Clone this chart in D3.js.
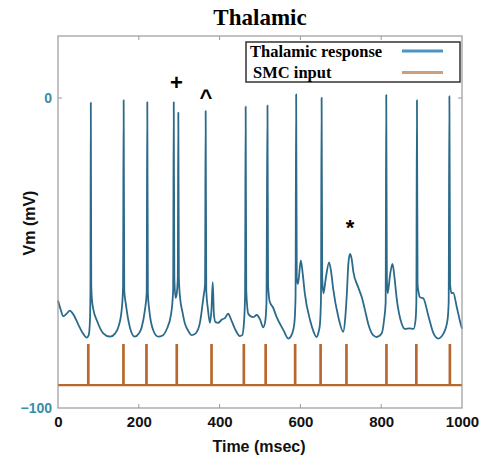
<!DOCTYPE html>
<html>
<head>
<meta charset="utf-8">
<script src="https://cdn.jsdelivr.net/npm/d3@7"></script>
<style>
  body { margin: 0; background: #fff; }
  svg { display: block; }
</style>
</head>
<body>
<svg id="chart"></svg>
<script>
// thalamic membrane trace, [time (msec), Vm (mV)]
const thalamicTrace = [
  [0,-65.3],[6,-68],[13,-70.4],[22,-69.5],[29,-68.6],[38,-69.8],[50,-73],[62,-76],[71,-77.3],[76,-76.5],
  [79,-72],[80.3,-62],[81.2,-1.5],[82.3,-60],[84,-65],[88,-68.5],[96,-71.7],[112,-75.9],[129,-77],[141,-76],
  [149,-74],[157.5,-68.5],[161,-61],[162.5,-0.7],[164,-62],[168,-66.5],[178,-74],[190,-77],[200,-76],[207,-74],
  [215,-68.5],[219.5,-63],[221,-1.3],[222.5,-63],[226,-68.5],[236,-75],[248,-77],[260,-76.5],[269,-74.6],[280,-69.6],
  [285,-62],[286.5,-1.3],[288,-58],[291,-64.5],[294,-63],[296.5,-58],[297.8,-4.7],[299.2,-58],[302,-64.2],[308,-69],
  [314,-72.7],[322,-75],[331,-76.5],[340,-76],[351,-72.7],[360,-64.2],[364,-60],[365.5,-4.2],[367,-62],[371,-68],
  [376,-72.5],[380,-68],[383,-59.4],[386,-70],[390,-72.3],[397,-72.5],[405,-71.5],[413,-71],[421,-69.6],[430,-72],
  [440,-75],[450,-76.8],[456,-76.5],[460,-73],[463,-64],[464.5,-2.8],[466,-62],[471,-69.6],[478,-70.5],[483,-70.7],
  [492,-70],[500,-71.4],[508,-74],[513,-72],[516,-66],[518.5,-2.4],[520,-60],[523,-65],[525,-66],[532,-67.5],
  [541,-70.6],[558,-74.9],[570,-77.6],[578,-76.5],[585,-72.7],[588,-64],[589.5,1.2],[591,-58],[594,-60],[601,-52.4],
  [606,-57],[611,-63.1],[624,-71.7],[633,-75.5],[640,-77.1],[645,-75.5],[648.5,-72.8],[651,-64],[652.5,0.1],[654,-58],
  [657,-63],[663,-58],[671,-53],[676,-56],[681,-61.4],[694,-70.7],[706,-75.4],[711,-71],[715,-63],[719,-53],
  [723,-50.3],[727,-52],[731,-56],[743,-61],[752,-64.3],[760,-68.5],[768,-72.9],[780,-76.5],[789,-77.1],[801,-76],
  [807,-71.7],[811,-66],[812.5,1.0],[814,-58],[816,-63],[822,-57],[828,-53.5],[833,-58],[838,-64.3],[851,-72.9],
  [859,-74.5],[870,-74.3],[880,-74.5],[885,-71.7],[887,-66],[888.5,-0.7],[890,-60],[893,-63],[896,-64.3],[904,-64.6],
  [917,-70.4],[929,-75.8],[941,-77.6],[954,-76],[964,-71.7],[967,-66],[968.8,0.6],[970.5,-60],[974,-63],[978,-62.8],
  [987,-67.4],[995,-72],[1000,-74.4]
];

// SMC input pulse times (msec) and levels (mV)
const inputTimes = [75, 162, 219, 294, 380, 460, 514, 587, 650, 714, 813, 887, 970];
const inputBase = -92.6;
const inputPeak = -79.7;

const xTicks = [0, 200, 400, 600, 800, 1000];
const yTicks = [0, -100];
const seriesNames = ['Thalamic response', 'SMC input'];
const markers = [['+', 293, 2.7], ['^', 366, -2.1], ['*', 723, -44.3]];

const width = 488, height = 459;
const margin = { top: 36, right: 26, bottom: 51, left: 58 };

const svg = d3.select('#chart').attr('width', width).attr('height', height);

const x = d3.scaleLinear().domain([0, 1000]).range([margin.left, width - margin.right]);
const y = d3.scaleLinear().domain([-100, 20]).range([height - margin.bottom, margin.top]);

const boxColor = '#9a9a9a';

// input trace: flat baseline with short pulses
const inputPoints = [[0, inputBase]];
inputTimes.forEach(t => {
  inputPoints.push([t - 0.6, inputBase], [t - 0.6, inputPeak], [t + 0.6, inputPeak], [t + 0.6, inputBase]);
});
inputPoints.push([1000, inputBase]);

const line = d3.line().x(d => x(d[0])).y(d => y(d[1]));

svg.append('path')
  .attr('d', line(inputPoints))
  .attr('fill', 'none')
  .attr('stroke', '#b8682f')
  .attr('stroke-width', 2.2);

svg.append('path')
  .attr('d', line.curve(d3.curveMonotoneX)(thalamicTrace))
  .attr('fill', 'none')
  .attr('stroke', '#2b6a8a')
  .attr('stroke-width', 1.8)
  .attr('stroke-linejoin', 'round');

// axes box
svg.append('rect')
  .attr('x', x(0)).attr('y', y(20))
  .attr('width', x(1000) - x(0)).attr('height', y(-100) - y(20))
  .attr('fill', 'none').attr('stroke', boxColor).attr('stroke-width', 1.2);

const xAxis = d3.axisBottom(x).tickValues(xTicks).tickFormat(d3.format('d')).tickSize(0).tickPadding(8);
const gx = svg.append('g').attr('transform', `translate(0,${y(-100)})`).call(xAxis);
gx.select('.domain').remove();
gx.selectAll('text')
  .attr('font-family', 'Liberation Sans, Arial, sans-serif')
  .attr('font-weight', 'bold').attr('font-size', 15).attr('fill', '#111');

const yAxis = d3.axisLeft(y).tickValues(yTicks).tickSize(0).tickPadding(6);
const gy = svg.append('g').attr('transform', `translate(${x(0)},0)`).call(yAxis);
gy.select('.domain').remove();
gy.selectAll('text')
  .attr('font-family', 'Liberation Sans, Arial, sans-serif')
  .attr('font-weight', 'bold').attr('font-size', 14).attr('fill', '#3a8ca6');

// inner tick marks
const tickG = svg.append('g').attr('stroke', boxColor).attr('stroke-width', 1);
xTicks.slice(1, -1).forEach(t => {
  tickG.append('line').attr('x1', x(t)).attr('x2', x(t)).attr('y1', y(-100)).attr('y2', y(-100) - 4);
  tickG.append('line').attr('x1', x(t)).attr('x2', x(t)).attr('y1', y(20)).attr('y2', y(20) + 4);
});
tickG.append('line').attr('x1', x(0)).attr('x2', x(0) + 4).attr('y1', y(0)).attr('y2', y(0));
tickG.append('line').attr('x1', x(1000)).attr('x2', x(1000) - 4).attr('y1', y(0)).attr('y2', y(0));

// labels
svg.append('text')
  .attr('x', 260).attr('y', 25)
  .attr('text-anchor', 'middle')
  .attr('font-family', 'Liberation Serif, Times New Roman, serif')
  .attr('font-weight', 'bold').attr('font-size', 23)
  .text('Thalamic');

svg.append('text')
  .attr('x', 259).attr('y', 452)
  .attr('text-anchor', 'middle')
  .attr('font-family', 'Liberation Sans, Arial, sans-serif')
  .attr('font-weight', 'bold').attr('font-size', 16).attr('fill', '#111')
  .text('Time (msec)');

svg.append('text')
  .attr('transform', 'translate(35,223) rotate(-90)')
  .attr('text-anchor', 'middle')
  .attr('font-family', 'Liberation Sans, Arial, sans-serif')
  .attr('font-weight', 'bold').attr('font-size', 16).attr('fill', '#111')
  .text('Vm (mV)');

// event markers
svg.selectAll('.marker')
  .data(markers)
  .enter()
  .append('text')
  .attr('class', 'marker')
  .attr('x', d => x(d[1])).attr('y', d => y(d[2]))
  .attr('text-anchor', 'middle')
  .attr('font-family', 'Liberation Sans, Arial, sans-serif')
  .attr('font-weight', 'bold').attr('font-size', 22)
  .text(d => d[0]);

// legend
const legend = svg.append('g');
legend.append('rect')
  .attr('x', 246).attr('y', 42).attr('width', 214).attr('height', 40)
  .attr('fill', '#fff').attr('stroke', '#333').attr('stroke-width', 1.5);
const legendColors = ['#4b94c3', '#caa07f'];
seriesNames.forEach((name, i) => {
  legend.append('text')
    .attr('x', i === 0 ? 250 : 253).attr('y', 57 + i * 21)
    .attr('font-family', 'Liberation Serif, Times New Roman, serif')
    .attr('font-weight', 'bold').attr('font-size', 16.5)
    .text(name);
  legend.append('line')
    .attr('x1', 402).attr('x2', 443)
    .attr('y1', 51 + i * 21.5).attr('y2', 51 + i * 21.5)
    .attr('stroke', legendColors[i]).attr('stroke-width', 3);
});
</script>
</body>
</html>
